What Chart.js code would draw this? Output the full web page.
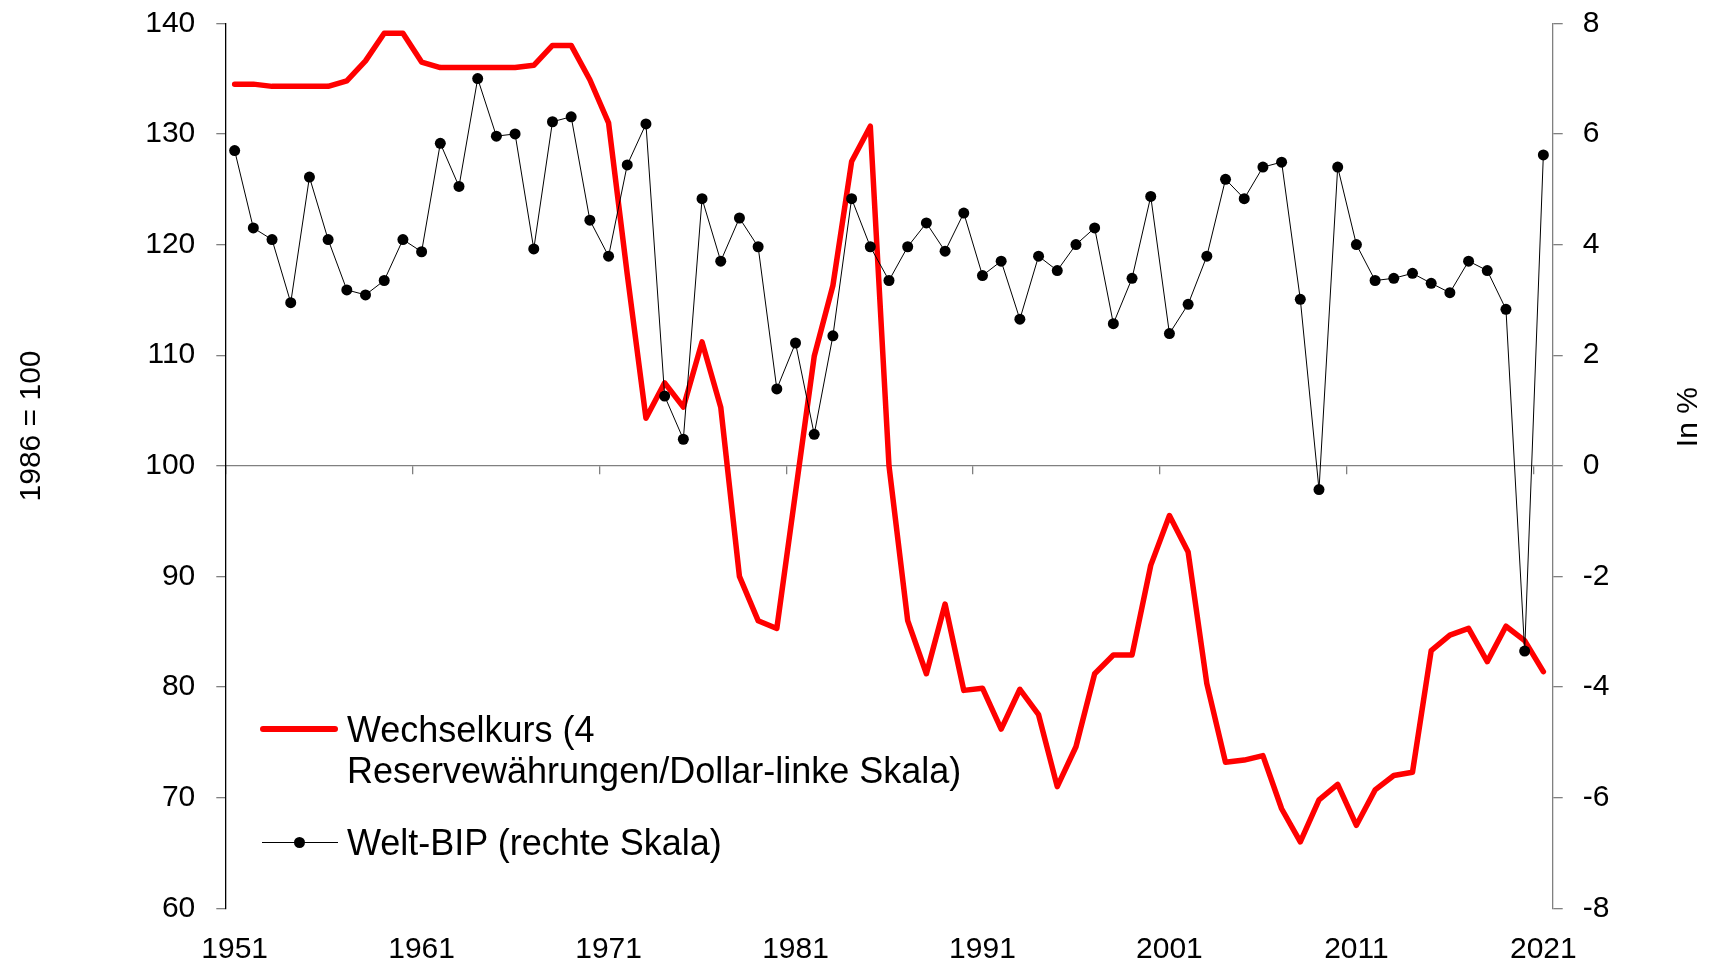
<!DOCTYPE html>
<html>
<head>
<meta charset="utf-8">
<script src="https://cdn.jsdelivr.net/npm/chart.js@4"></script>
<style>
html, body { margin: 0; padding: 0; background: #fff; }
#wrap { position: relative; width: 1711px; height: 965px; overflow: hidden; }
#chart { position: absolute; left: 0; top: 0; }
#legend { position: absolute; left: 0; top: 0; width: 1711px; height: 965px; pointer-events: none;
  font-family: "Liberation Sans", Arial, sans-serif; font-size: 36px; color: #000; }
.lg-item { position: absolute; }
.lg-text { position: absolute; white-space: pre; line-height: 41px; }
.lg-line { position: absolute; }
.lg-dot { position: absolute; border-radius: 50%; background: #000; }
</style>
</head>
<body>
<div id="wrap">
  <canvas id="chart" width="1711" height="965"></canvas>
  <div id="legend"></div>
</div>
<script>
// ---- data ----
const years = [
  '1951','1952','1953','1954','1955','1956','1957','1958','1959','1960',
  '1961','1962','1963','1964','1965','1966','1967','1968','1969','1970',
  '1971','1972','1973','1974','1975','1976','1977','1978','1979','1980',
  '1981','1982','1983','1984','1985','1986','1987','1988','1989','1990',
  '1991','1992','1993','1994','1995','1996','1997','1998','1999','2000',
  '2001','2002','2003','2004','2005','2006','2007','2008','2009','2010',
  '2011','2012','2013','2014','2015','2016','2017','2018','2019','2020',
  '2021'
];
const tickYears = ['1951','1961','1971','1981','1991','2001','2011','2021'];

// Wechselkurs (4 Reservewährungen/Dollar), 1986 = 100 – left scale
const exchangeRate = [
  134.5, 134.5, 134.3, 134.3, 134.3, 134.3, 134.8, 136.6, 139.1, 139.1,
  136.5, 136.0, 136.0, 136.0, 136.0, 136.0, 136.2, 138.0, 138.0, 134.9,
  131.0, 117.3, 104.3, 107.5, 105.3, 111.2, 105.3, 90.0, 86.0, 85.3,
  97.6, 109.9, 116.3, 127.5, 130.7, 100.0, 86.0, 81.2, 87.5, 79.7,
  79.9, 76.2, 79.8, 77.5, 71.0, 74.6, 81.2, 82.9, 82.9, 91.0,
  95.5, 92.2, 80.3, 73.2, 73.4, 73.8, 69.0, 66.0, 69.8, 71.2,
  67.5, 70.7, 72.0, 72.3, 83.3, 84.7, 85.3, 82.3, 85.5, 84.2,
  81.4
];

// Welt-BIP, in % – right scale
const worldGdp = [
  5.70, 4.30, 4.09, 2.95, 5.22, 4.09, 3.18, 3.09, 3.35, 4.09,
  3.87, 5.83, 5.05, 7.00, 5.96, 6.00, 3.92, 6.22, 6.31, 4.44,
  3.79, 5.44, 6.18, 1.26, 0.48, 4.83, 3.70, 4.48, 3.96, 1.39,
  2.22, 0.57, 2.35, 4.83, 3.96, 3.35, 3.96, 4.39, 3.88, 4.57,
  3.44, 3.70, 2.65, 3.79, 3.53, 4.00, 4.30, 2.57, 3.39, 4.87,
  2.39, 2.92, 3.79, 5.18, 4.83, 5.40, 5.49, 3.01, -0.43, 5.40,
  4.00, 3.35, 3.39, 3.48, 3.30, 3.13, 3.70, 3.53, 2.83, -3.35,
  5.62
];

const leftTitle = '1986 = 100';
const rightTitle = 'In %';
const labelRate = 'Wechselkurs (4\nReservewährungen/Dollar-linke Skala)';
const labelGdp = 'Welt-BIP (rechte Skala)';

// ---- chart ----
const FONT = '"Liberation Sans", Arial, sans-serif';

const axisTitles = {
  id: 'axisTitles',
  afterDraw(chart) {
    const { ctx, chartArea } = chart;
    const h = chartArea.bottom - chartArea.top;
    ctx.save();
    ctx.font = '30px ' + FONT;
    ctx.fillStyle = '#000';
    ctx.textAlign = 'center';
    ctx.textBaseline = 'middle';
    ctx.save();
    ctx.translate(chartArea.left - 194, chartArea.top + h * 0.455);
    ctx.rotate(-Math.PI / 2);
    ctx.fillText(leftTitle, 0, 0);
    ctx.restore();
    ctx.save();
    ctx.translate(chartArea.right + 136, chartArea.top + h * 0.445);
    ctx.rotate(-Math.PI / 2);
    ctx.fillText(rightTitle, 0, 0);
    ctx.restore();
    ctx.restore();
  }
};

const tickMarkColor = (c) => (c.index !== undefined && c.index % 10 === 0) ? '#808080' : 'rgba(0,0,0,0)';

const chart = new Chart(document.getElementById('chart'), {
  type: 'line',
  data: {
    labels: years,
    datasets: [
      {
        label: labelGdp,
        data: worldGdp,
        yAxisID: 'y2',
        xAxisID: 'x',
        borderColor: '#000',
        borderWidth: 1,
        pointRadius: 5.5,
        pointBackgroundColor: '#000',
        pointBorderWidth: 0,
        tension: 0,
        order: 0
      },
      {
        label: labelRate,
        data: exchangeRate,
        yAxisID: 'y',
        xAxisID: 'x',
        borderColor: '#ff0000',
        borderWidth: 5.5,
        borderJoinStyle: 'round',
        borderCapStyle: 'round',
        pointRadius: 0,
        tension: 0,
        order: 1
      }
    ]
  },
  options: {
    responsive: false,
    animation: false,
    layout: { padding: { top: 23.3, left: 0, right: 0, bottom: 0 } },
    plugins: { legend: { display: false }, tooltip: { enabled: false } },
    scales: {
      x: {
        type: 'category',
        position: 'bottom',
        offset: true,
        border: { display: false },
        grid: { display: false, drawTicks: false },
        ticks: {
          autoSkip: false, maxRotation: 0, minRotation: 0, padding: 23,
          color: '#000', font: { size: 30, family: FONT },
          callback(value) {
            const lab = this.getLabelForValue(value);
            return tickYears.includes(lab) ? lab : '';
          }
        },
        afterFit(s) { s.height = 56.7; s.paddingLeft = 0; s.paddingRight = 0; }
      },
      x2: {
        type: 'category',
        position: { y: 100 },
        offset: true,
        ticks: { display: false },
        border: { display: true, color: '#808080', width: 1.3 },
        grid: {
          display: true, drawOnChartArea: false, drawTicks: true,
          tickLength: 8, offset: true, lineWidth: 1.3,
          color: tickMarkColor, tickColor: tickMarkColor
        }
      },
      y: {
        position: 'left',
        min: 60, max: 140,
        ticks: { stepSize: 10, padding: 21, color: '#000', font: { size: 30, family: FONT } },
        border: { display: true, color: '#000', width: 1.3 },
        grid: { drawOnChartArea: false, drawTicks: true, tickLength: 9, tickColor: '#808080', lineWidth: 1.3 },
        afterFit(s) { s.width = 225.3; s.paddingTop = 0; s.paddingBottom = 0; }
      },
      y2: {
        position: 'right',
        min: -8, max: 8,
        ticks: { stepSize: 2, padding: 20, color: '#000', font: { size: 30, family: FONT } },
        border: { display: true, color: '#808080', width: 1.3 },
        grid: { drawOnChartArea: false, drawTicks: true, tickLength: 10, tickColor: '#808080', lineWidth: 1.3 },
        afterFit(s) { s.width = 158.3; s.paddingTop = 0; s.paddingBottom = 0; }
      }
    }
  },
  plugins: [axisTitles]
});

// ---- HTML legend built from the datasets ----
(function buildLegend() {
  const legend = document.getElementById('legend');
  const order = [1, 0];          // red series first, as in the original
  const tops = [708.5, 821.5];   // top of each legend text block
  order.forEach((dsIndex, k) => {
    const ds = chart.data.datasets[dsIndex];
    const item = document.createElement('div');
    item.className = 'lg-item';
    item.style.left = '258px';
    item.style.top = tops[k] + 'px';
    const cy = 20.5;
    if (ds.pointRadius > 0) {
      const line = document.createElement('div');
      line.className = 'lg-line';
      line.style.left = '4px'; line.style.width = '76px';
      line.style.top = (cy - 0.5) + 'px'; line.style.height = '1px';
      line.style.background = ds.borderColor;
      item.appendChild(line);
      const dot = document.createElement('div');
      dot.className = 'lg-dot';
      const d = ds.pointRadius * 2;
      dot.style.width = d + 'px'; dot.style.height = d + 'px';
      dot.style.left = (41 - d / 2) + 'px'; dot.style.top = (cy - d / 2) + 'px';
      item.appendChild(dot);
    } else {
      const line = document.createElement('div');
      line.className = 'lg-line';
      line.style.left = '2px'; line.style.width = '78px';
      line.style.top = (cy - ds.borderWidth / 2) + 'px';
      line.style.height = ds.borderWidth + 'px';
      line.style.borderRadius = '3px';
      line.style.background = ds.borderColor;
      item.appendChild(line);
    }
    const txt = document.createElement('div');
    txt.className = 'lg-text';
    txt.style.left = '89px'; txt.style.top = '0px';
    txt.textContent = ds.label;
    item.appendChild(txt);
    legend.appendChild(item);
  });
})();
</script>
</body>
</html>
